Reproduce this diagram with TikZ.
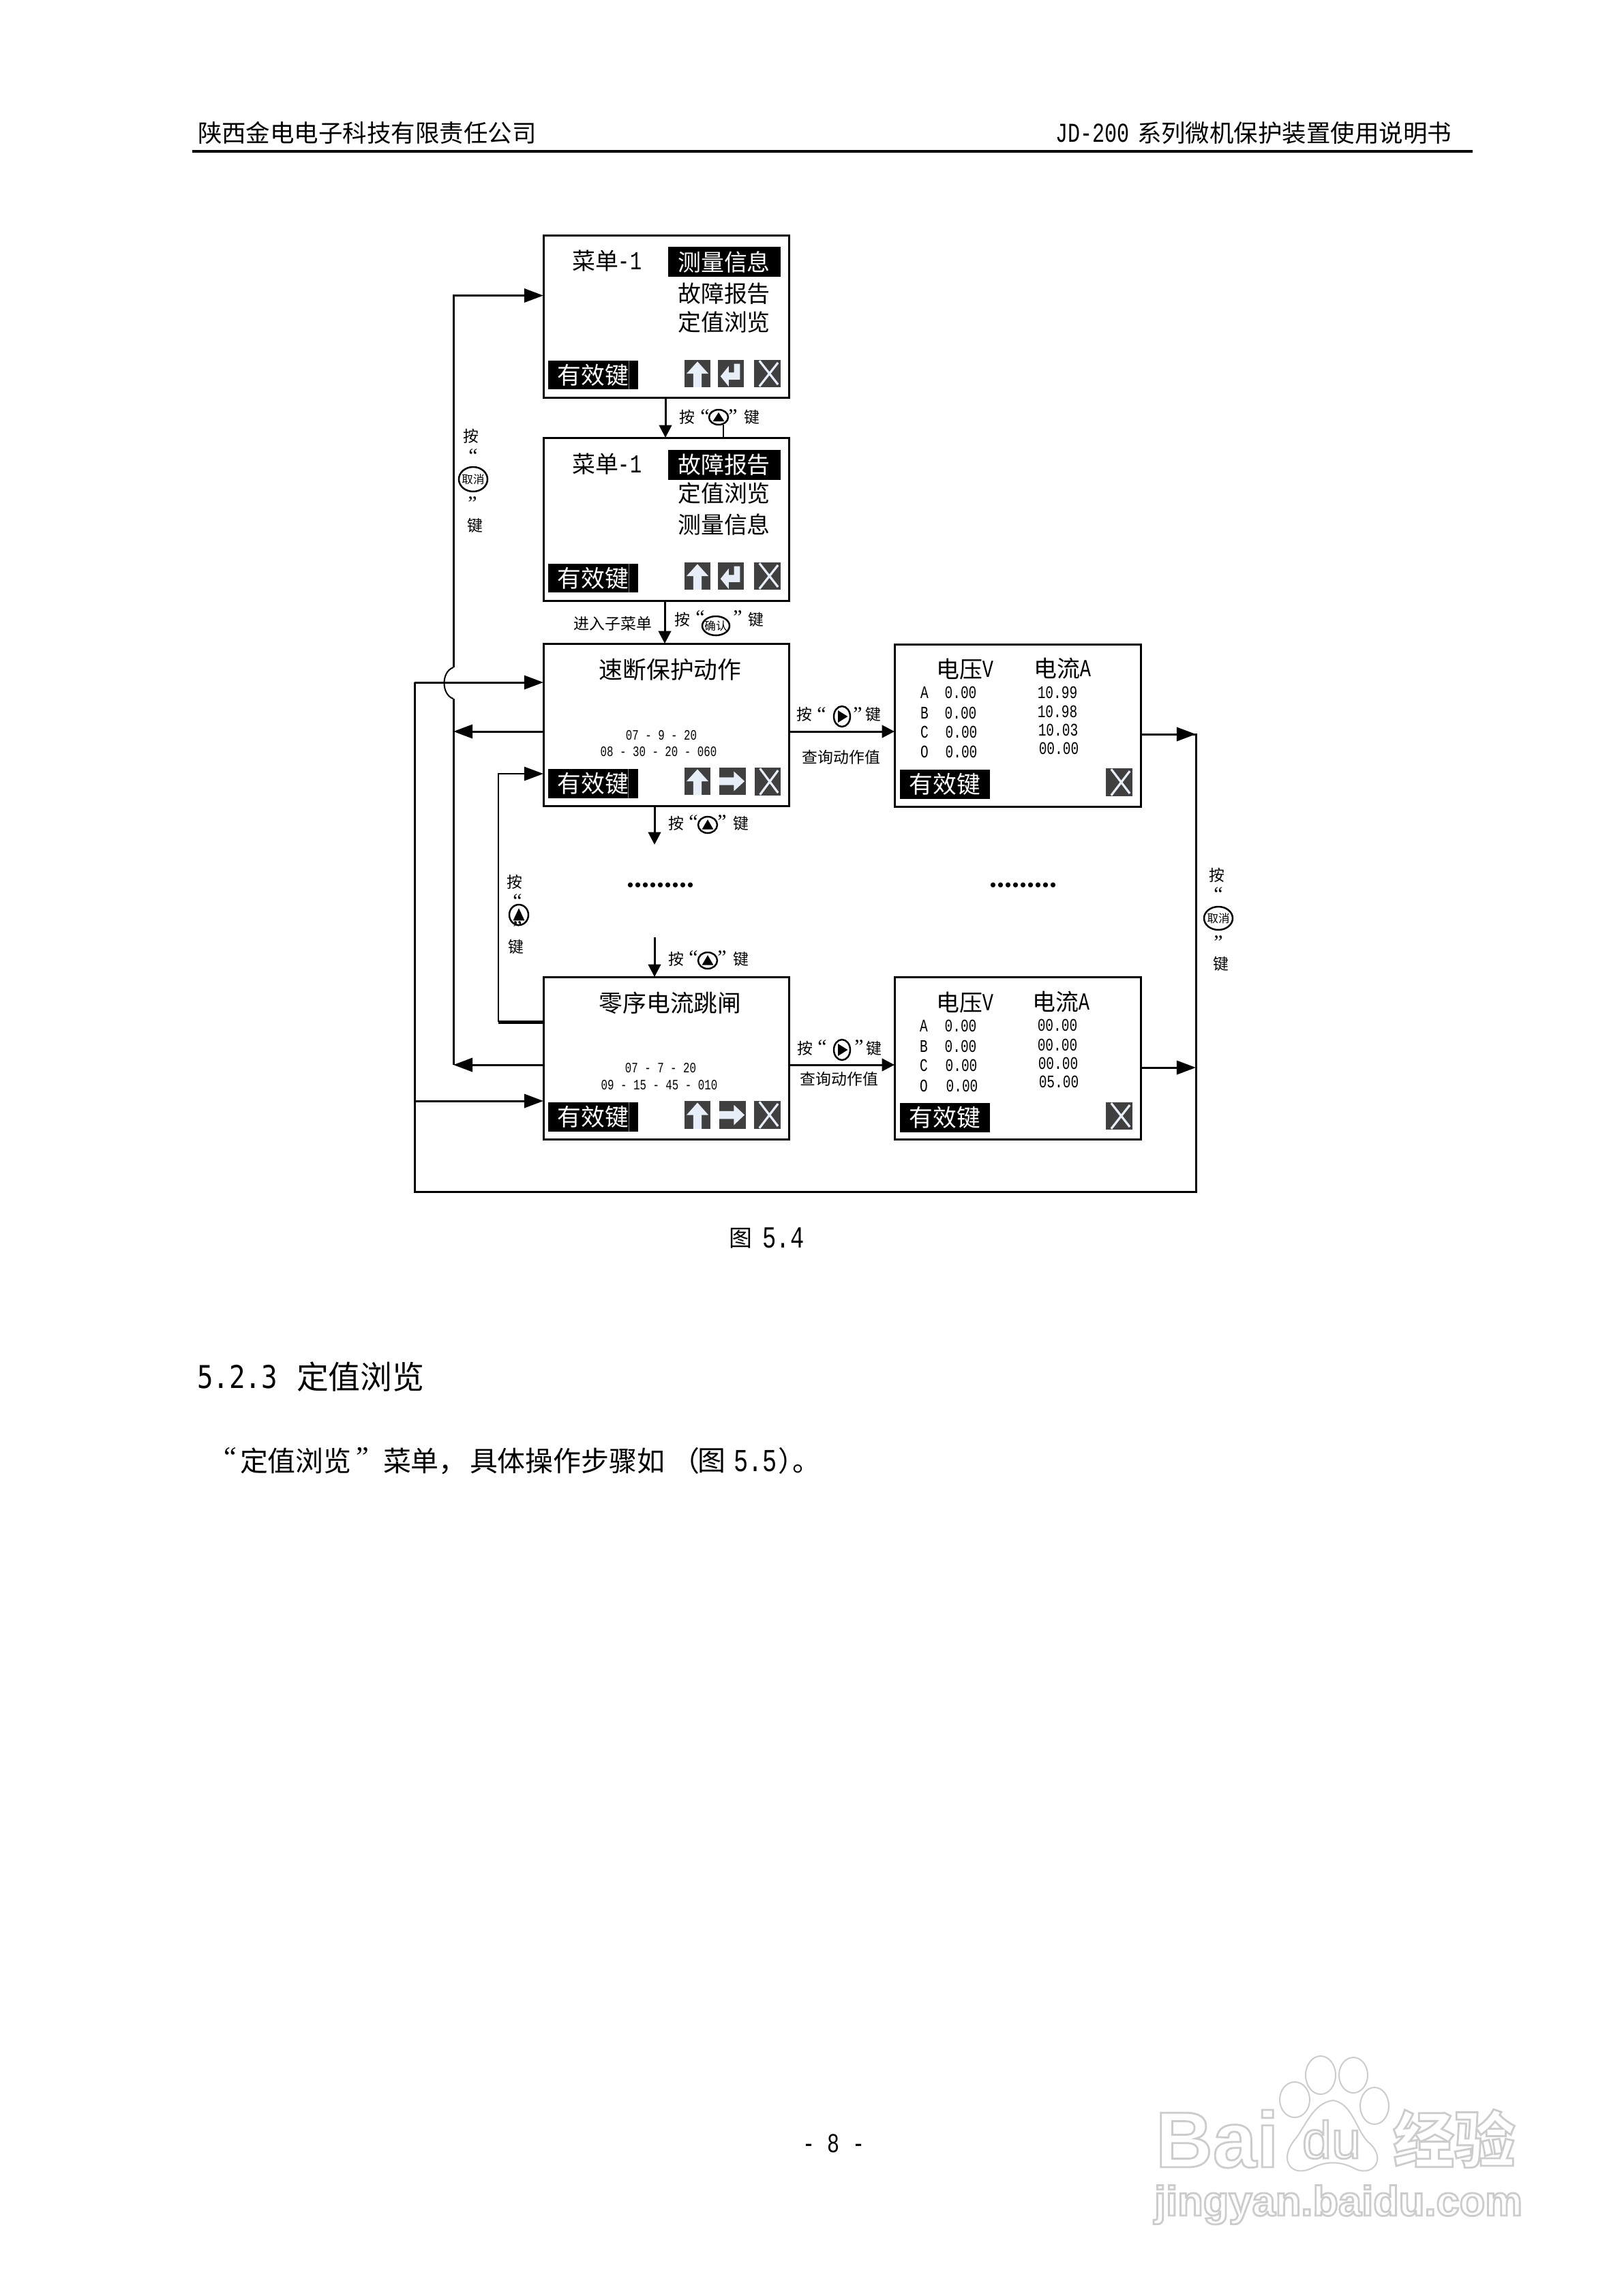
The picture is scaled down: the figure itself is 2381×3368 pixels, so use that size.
\documentclass[tikz,border=0pt]{standalone}
\usepackage{fontspec}
\setmainfont{Noto Sans CJK SC}
\newfontfamily\monot[FakeStretch=0.75]{Liberation Mono}
\newfontfamily\qf{Liberation Serif}
\newfontfamily\wmf{Liberation Sans}
\newfontfamily\hmono[FakeStretch=0.85]{DejaVu Sans Mono}
\usetikzlibrary{arrows.meta,shapes.geometric}
\newcommand\fs[1]{\fontsize{#1}{#1}\selectfont}
\newcommand\outl[1]{\special{pdf:code 1 Tr 1.6 w 0.8 G}#1\special{pdf:code 0 Tr 0 G}}
\definecolor{iconbg}{HTML}{404040}
\definecolor{iconfg}{HTML}{E8EEF8}
\tikzset{
  txt/.style={inner sep=0,outer sep=0,align=center},
  screen/.style={draw=black,line width=3*0.02cm,fill=white,inner sep=0,outer sep=0},
  scrB/.style={screen,minimum width=360*0.02cm,minimum height=238*0.02cm},
  scrC/.style={screen,minimum width=361*0.02cm,minimum height=238*0.02cm},
  menu/.style={txt,font=\fs{19.3}},
  sel/.style={menu,fill=black,text=white,minimum width=165*0.02cm,minimum height=44.5*0.02cm},
  keysB/.style={txt,fill=black,text=white,font=\fs{19.8},minimum width=132*0.02cm,minimum height=43*0.02cm},
  keyline/.style={draw=gray,line width=1*0.02cm},
  title/.style={txt,font=\fs{19.8}},
  date/.style={txt,font=\monot\fs{12}},
  val/.style={txt,font=\monot\fs{14.8}},
  unit/.style={txt,font=\monot\fs{20.5}},
  lab/.style={txt,font=\fs{13}},
  quo/.style={txt,font=\qf\fs{17}},
  hdr/.style={txt,font=\fs{20.2},anchor=west},
  body/.style={txt,font=\fs{23.3},anchor=west},
  keyring/.style={draw=black,ellipse,line width=2.5*0.02cm,inner sep=0,outer sep=0,fill=white},
  conn/.style={line width=3*0.02cm,line cap=butt},
  big/.style={conn,-{Triangle[length=16pt,width=11.5pt]}},
  small/.style={conn,-{Triangle[length=10.5pt,width=10.5pt]}},
  wmtext/.style={txt,text=white},
}
% icons: x y w h
\newcommand\IconUp[4]{\begin{scope}[shift={(#1,#2)},xscale=#3,yscale=#4]
  \fill[iconbg] (0,0) rectangle (1,1);
  \fill[iconfg] (.5,.06)--(.92,.5)--(.66,.5)--(.66,1)--(.34,1)--(.34,.5)--(.08,.5)--cycle;
\end{scope}}
\newcommand\IconEnter[4]{\begin{scope}[shift={(#1,#2)},xscale=#3,yscale=#4]
  \fill[iconbg] (0,0) rectangle (1,1);
  \fill[iconfg] (.85,.14)--(.85,.72)--(.42,.72)--(.42,.98)--(.1,.6)--(.42,.22)--(.42,.46)--(.62,.46)--(.62,.14)--cycle;
\end{scope}}
\newcommand\IconRight[4]{\begin{scope}[shift={(#1,#2)},xscale=#3,yscale=#4]
  \fill[iconbg] (0,0) rectangle (1,1);
  \fill[iconfg] (0,.36)--(.55,.36)--(.55,.14)--(.95,.5)--(.55,.86)--(.55,.64)--(0,.64)--cycle;
\end{scope}}
\newcommand\IconX[4]{\begin{scope}[shift={(#1,#2)},xscale=#3,yscale=#4]
  \fill[iconbg] (0,0) rectangle (1,1);
  \draw[iconfg,line width=3.2*0.02cm] (.2,.03)--(.9,.9) (.9,.1)--(.2,.97);
\end{scope}}
% keys: name x y rx ry
\newcommand\KeyUp[5]{\node[keyring,minimum width=2*#4*0.02cm,minimum height=2*#5*0.02cm] (#1) at (#2,#3) {};
  \fill[black] ({#2},{#3-#5*0.65})--({#2+#4*0.6},{#3+#5*0.55})--({#2-#4*0.6},{#3+#5*0.55})--cycle;}
\newcommand\KeyRight[5]{\node[keyring,minimum width=2*#4*0.02cm,minimum height=2*#5*0.02cm] (#1) at (#2,#3) {};
  \fill[black] ({#2+#4*0.7},{#3})--({#2-#4*0.5},{#3-#5*0.6})--({#2-#4*0.5},{#3+#5*0.6})--cycle;}
\newcommand\KeyTxt[6]{\node[keyring,minimum width=2*#4*0.02cm,minimum height=2*#5*0.02cm] (#1) at (#2,#3) {};
  \node[txt,font=\fs{9.4}] (#1t) at (#2,#3) {#6};}
\begin{document}
\begin{tikzpicture}[x=0.02cm,y=-0.02cm]
\useasboundingbox (0,0) rectangle (2381,3368);
\fill[white] (0,0) rectangle (2381,3368);

% page header
\node[hdr] (hl) at (290,195) {陕西金电电子科技有限责任公司};
\node[txt,font=\monot\fs{22.8},anchor=west] (hr0) at (1548,195) {JD-200};
\node[hdr] (hr1) at (1668,195) {系列微机保护装置使用说明书};
\coordinate (hA) at (282,222);
\coordinate (hB) at (2160,222);
\draw[line width=3.5*0.02cm] (hA) -- (hB);

% screens
\node[scrB] (b1) at (977,464) {};
\node[scrB,minimum height=239*0.02cm] (b2) at (977,761.5) {};
\node[scrB] (b3) at (977,1063) {};
\node[scrC] (r3) at (1492.5,1064) {};
\node[scrB] (b4) at (977,1552) {};
\node[scrC] (r4) at (1492.5,1552.5) {};

% helper coordinates for connector ends
\coordinate (xJ) at (665,0);
\coordinate (xO) at (608,0);
\coordinate (xI) at (731,0);
\coordinate (xR) at (1754,0);
\coordinate (yTop) at (0,433.5);
\coordinate (y3in) at (0,1001);
\coordinate (y3out) at (0,1073);
\coordinate (y3up) at (0,1135);
\coordinate (y3r) at (0,1077);
\coordinate (y4up) at (0,1499);
\coordinate (y4out) at (0,1562);
\coordinate (y4r) at (0,1566);
\coordinate (y4in) at (0,1615);
\coordinate (yB) at (0,1748);
\coordinate (jT) at (665,979);
\coordinate (jB) at (665,1025);
\coordinate (dA) at (960,1182);
\coordinate (dB) at (960,1239);
\coordinate (dC) at (960,1375);
\coordinate (dD) at (960,1433);
\coordinate (v1) at (976,0);
\coordinate (v2) at (975,0);

% vertical links
\draw[small] (v1 |- b1.south) -- (v1 |- b2.north);
\draw[small] (v2 |- b2.south) -- (v2 |- b3.north);
\draw[small] (dA) -- (dB);
\draw[small] (dC) -- (dD);

% horizontal links
\draw[small] (b3.east |- y3out) -- (r3.west |- y3out);
\draw[small] (b4.east |- y4out) -- (r4.west |- y4out);
\draw[big] (r3.east |- y3r) -- (xR |- y3r);
\draw[big] (r4.east |- y4r) -- (xR |- y4r);
\draw[big] (b3.west |- y3out) -- (xJ |- y3out);
\draw[big] (b4.west |- y4out) -- (xJ |- y4out);

% cancel loop up to first menu
\draw[conn] (xJ |- y4out) -- (jB);
\draw[line width=2*0.02cm] (jB) .. controls (647,1019) and (647,985) .. (jT);
\draw[big] (jT) -- (xJ |- yTop) -- (b1.west |- yTop);

% outer loop
\draw[conn] (r3.east |- y3r) -- (xR |- y3r) -- (xR |- yB) -- (xO |- yB) -- (xO |- y3in);
\draw[big] (xO |- y3in) -- (b3.west |- y3in);
\draw[big] (xO |- y4in) -- (b4.west |- y4in);

% inner up loop
\draw[line width=5*0.02cm] (b4.west |- y4up) -- (xI |- y4up);
\draw[big,line width=2.5*0.02cm] (xI |- y4up) -- (xI |- y3up) -- (b3.west |- y3up);

% ---- screen 1
\node[menu] (m1t) at (873,383) {菜单};
\node[unit,font=\monot\fs{21.6}] (m1n) at (924,383) {-1};
\node[sel] (m1a) at (1062,384) {测量信息};
\node[menu] (m1b) at (1062,431) {故障报告};
\node[menu] (m1c) at (1062,473) {定值浏览};
\node[keysB,minimum height=42*0.02cm] (k1) at (870,550) {有效键};
\draw[keyline] (922,529)--(922,571);
\IconUp{1004}{528}{38}{40}
\IconEnter{1053}{528}{38}{40}
\IconX{1106}{528}{39}{40}
% ---- screen 2
\node[menu] (m2t) at (873,681) {菜单};
\node[unit,font=\monot\fs{21.6}] (m2n) at (924,681) {-1};
\node[sel] (m2a) at (1062,682) {故障报告};
\node[menu] (m2b) at (1062,724) {定值浏览};
\node[menu] (m2c) at (1062,769) {测量信息};
\node[keysB,minimum height=42*0.02cm] (k2) at (870,848) {有效键};
\draw[keyline] (922,827)--(922,869);
\IconUp{1004}{825}{38}{40}
\IconEnter{1053}{825}{38}{40}
\IconX{1106}{825}{39}{40}
% ---- screen 3
\node[title] (t3) at (983,982) {速断保护动作};
\node[date] (d3a) at (970,1079) {07 - 9 - 20};
\node[date] (d3b) at (966,1102.5) {08 - 30 - 20 - 060};
\node[keysB] (k3) at (870,1149.5) {有效键};
\draw[keyline] (921,1128)--(921,1171);
\IconUp{1004}{1126}{38}{40}
\IconRight{1055}{1126}{39}{40}
\IconX{1107}{1126}{38}{41}
% ---- screen 4
\node[title] (t4) at (983,1471) {零序电流跳闸};
\node[date] (d4a) at (969,1567) {07 - 7 - 20};
\node[date] (d4b) at (967,1592) {09 - 15 - 45 - 010};
\node[keysB] (k4) at (870,1638.5) {有效键};
\draw[keyline] (922,1617)--(922,1660);
\IconUp{1004}{1615}{38}{41}
\IconRight{1055}{1615}{39}{41}
\IconX{1106}{1615}{39}{41}
% ---- right screen 3
\node[menu] (r3v) at (1407,982) {电压};
\node[unit] (r3vu) at (1449,982) {V};
\node[menu] (r3a) at (1550,981) {电流};
\node[unit] (r3au) at (1592,981) {A};
\node[val] (r3la) at (1356,1016) {A};
\node[val] (r3lb) at (1356,1046) {B};
\node[val] (r3lc) at (1356,1074) {C};
\node[val] (r3lo) at (1356,1103) {O};
\node[val] (r3u1) at (1409,1016) {0.00};
\node[val] (r3u2) at (1409,1046) {0.00};
\node[val] (r3u3) at (1410,1074) {0.00};
\node[val] (r3u4) at (1410,1103) {0.00};
\node[val] (r3i1) at (1551,1016) {10.99};
\node[val] (r3i2) at (1551,1044) {10.98};
\node[val] (r3i3) at (1552,1071) {10.03};
\node[val] (r3i4) at (1553,1098) {00.00};
\node[keysB] (k5) at (1386,1150.5) {有效键};
\IconX{1622}{1127}{39}{41}
% ---- right screen 4
\node[menu] (r4v) at (1407,1471) {电压};
\node[unit] (r4vu) at (1449,1471) {V};
\node[menu] (r4a) at (1548,1470) {电流};
\node[unit] (r4au) at (1590,1470) {A};
\node[val] (r4la) at (1355,1505) {A};
\node[val] (r4lb) at (1355,1535) {B};
\node[val] (r4lc) at (1355,1563) {C};
\node[val] (r4lo) at (1355,1593) {O};
\node[val] (r4u1) at (1409,1505) {0.00};
\node[val] (r4u2) at (1409,1535) {0.00};
\node[val] (r4u3) at (1410,1563) {0.00};
\node[val] (r4u4) at (1411,1593) {0.00};
\node[val] (r4i1) at (1551,1504) {00.00};
\node[val] (r4i2) at (1551,1533) {00.00};
\node[val] (r4i3) at (1552,1560) {00.00};
\node[val] (r4i4) at (1553,1587) {05.00};
\node[keysB] (k6) at (1386,1639.5) {有效键};
\IconX{1622}{1617}{39}{40}

% ---- key labels
\node[lab] (a1) at (1008,612) {按};
\node[quo] (a2) at (1034,611) {“};
\KeyUp{a3}{1054}{612}{14}{11}
\node[quo] (a4) at (1075,611) {”};
\node[lab] (a5) at (1103,612) {键};
\coordinate (a6) at (1061,642);
\draw[line width=1.2*0.02cm] (a3.south -| a6) -- (a6);

\node[lab] (c1) at (1001,909) {按};
\node[quo] (c2) at (1027,906) {“};
\KeyTxt{c3}{1050}{918}{20}{14}{确认}
\node[quo] (c4) at (1082,906) {”};
\node[lab] (c5) at (1109,909) {键};
\node[lab] (c6) at (899,915) {进入子菜单};

\node[lab] (e1) at (1180,1048) {按};
\node[quo] (e2) at (1205,1048) {“};
\KeyRight{e3}{1235}{1051}{12}{15}
\node[quo] (e4) at (1258,1048) {”};
\node[lab] (e5) at (1281,1048) {键};
\node[lab] (e6) at (1234,1111) {查询动作值};

\node[lab] (f1) at (1181,1538) {按};
\node[quo] (f2) at (1206,1536) {“};
\KeyRight{f3}{1235}{1540}{12}{15}
\node[quo] (f4) at (1260,1536) {”};
\node[lab] (f5) at (1282,1538) {键};
\node[lab] (f6) at (1231,1583) {查询动作值};

\node[lab] (g1) at (992,1208) {按};
\node[quo] (g2) at (1017,1206) {“};
\KeyUp{g3}{1038}{1210}{14}{12}
\node[quo] (g4) at (1059,1206) {”};
\node[lab] (g5) at (1087,1208) {键};

\node[lab] (h1) at (992,1407) {按};
\node[quo] (h2) at (1017,1405) {“};
\KeyUp{h3}{1038}{1409}{14}{12}
\node[quo] (h4) at (1059,1405) {”};
\node[lab] (h5) at (1087,1407) {键};

\node[lab] (p1) at (691,640) {按};
\node[quo] (p2) at (694,669) {“};
\KeyTxt{p3}{694}{703}{21}{18}{取消}
\node[quo] (p4) at (693,739) {”};
\node[lab] (p5) at (697,771) {键};

\node[lab] (q1) at (755,1294) {按};
\node[quo] (q2) at (759,1322) {“};
\KeyUp{q3}{761}{1342}{14}{15}
\node[quo] (q4) at (759,1362) {”};
\node[lab] (q5) at (757,1389) {键};

\node[lab] (s1) at (1785,1284) {按};
\node[quo] (s2) at (1787,1312) {“};
\KeyTxt{s3}{1787}{1347}{21}{17}{取消}
\node[quo] (s4) at (1787,1383) {”};
\node[lab] (s5) at (1791,1414) {键};

% dots
\node[txt,font=\qf\bfseries\fs{25}] (u1) at (969,1299) {.........};
\node[txt,font=\qf\bfseries\fs{25}] (u2) at (1501,1299) {.........};

% text below
\node[txt,font=\fs{19.3}] (cap1) at (1086,1816) {图};
\node[txt,font=\monot\fs{25.6}] (cap2) at (1149,1816) {5.4};
\node[txt,font=\hmono\fs{26.2},anchor=west] (sec1) at (289,2020) {5.2.3};
\node[txt,font=\fs{26.7},anchor=west] (sec2) at (435,2020) {定值浏览};
\node[txt,font=\qf\fs{24}] (b0) at (338,2137) {“};
\node[body] (b1t) at (352,2143) {定值浏览};
\node[txt,font=\qf\fs{24}] (b2t) at (532,2137) {”};
\node[body] (b3t) at (562,2143) {菜单，};
\node[body] (b4t) at (689,2143) {具体操作步骤如};
\node[body] (b5t) at (985,2143) {（};
\node[body] (b6t) at (1023,2143) {图};
\node[txt,font=\monot\fs{26.7},anchor=west] (b7t) at (1076,2143) {5.5};
\node[body] (b8t) at (1141,2143) {）\kern-0.47em。};
\node[txt,font=\monot\fs{22.8}] (pg) at (1223,3144) {- 8 -};

% watermark
\begin{scope}[draw=black!20,line width=2*0.02cm,fill=white]
\node[wmtext,font=\wmf\bfseries\fs{66},anchor=base west] (w1) at (1695,3179) {\outl{Bai}};
\draw (1899,3080) ellipse (22 and 26);
\draw (1937,3044) ellipse (22 and 28);
\draw (1985,3044) ellipse (21 and 26);
\draw (2016,3089) ellipse (21 and 27);
\draw (1955,3081) .. controls (1985,3085) and (1990,3130) .. (2010,3145)
  .. controls (2035,3170) and (2010,3195) .. (1985,3180)
  .. controls (1965,3170) and (1945,3170) .. (1925,3180)
  .. controls (1895,3195) and (1875,3170) .. (1898,3140)
  .. controls (1915,3120) and (1925,3085) .. (1955,3081) -- cycle;
\node[wmtext,font=\wmf\fs{44},anchor=base] (w2) at (1953,3166) {\outl{du}};
\node[wmtext,font=\bfseries\fs{51},anchor=center] (w3) at (2133,3137) {\outl{经验}};
\node[wmtext,font=\wmf\bfseries\fs{35},anchor=base west] (w4) at (1693,3250) {\outl{jingyan.baidu.com}};
\end{scope}
\end{tikzpicture}
\end{document}
